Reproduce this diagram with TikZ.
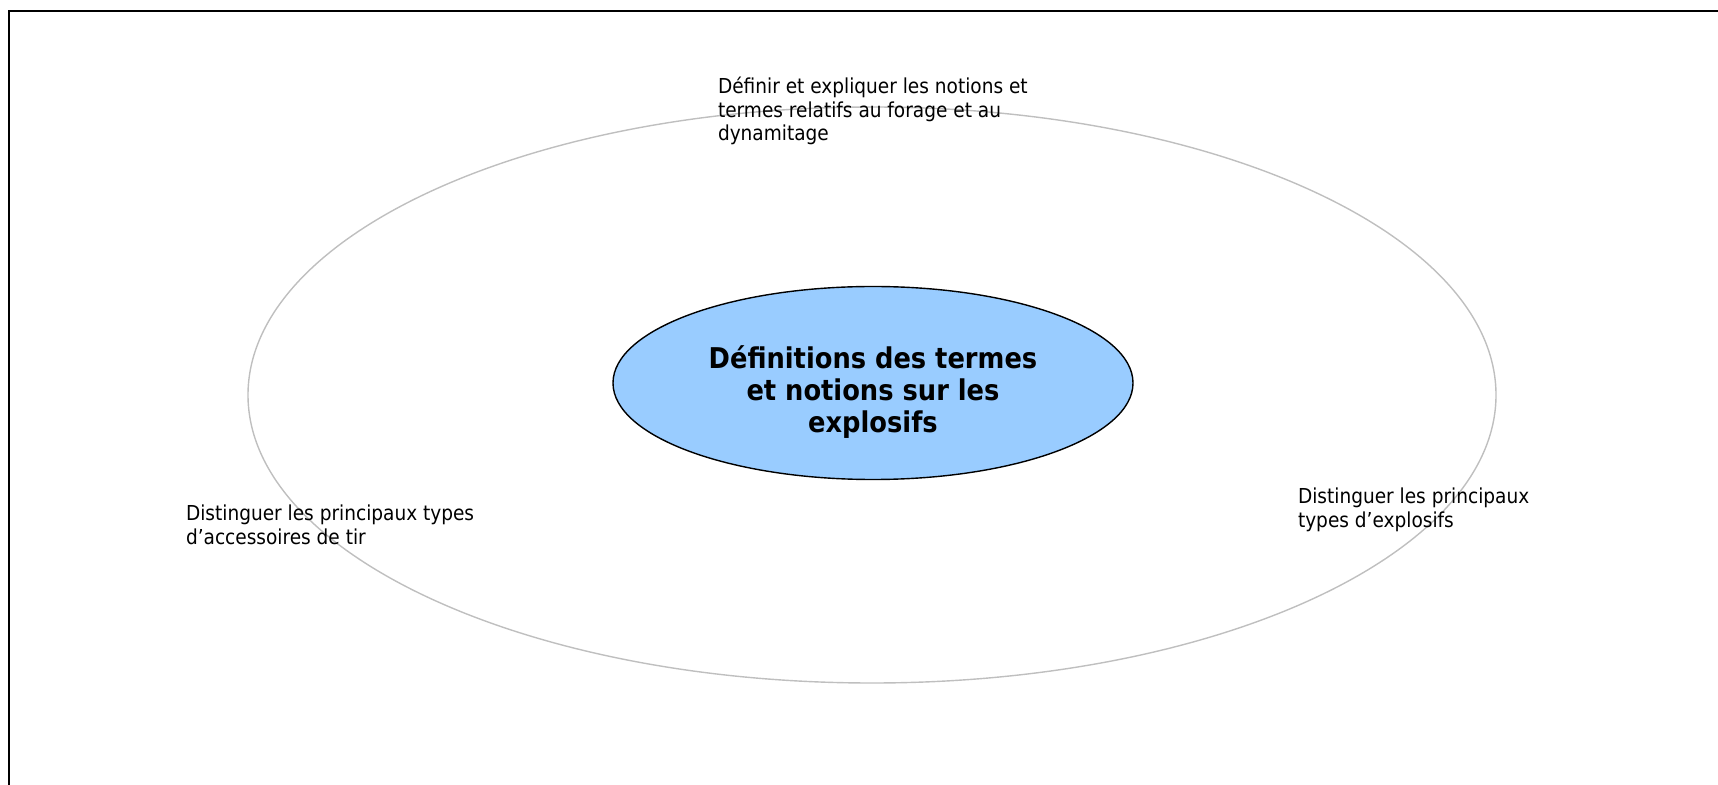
\documentclass[tikz,border=0pt]{standalone}
\usepackage{fontspec}
\setmainfont{DejaVu Sans Condensed}
\usetikzlibrary{shapes.geometric}

\begin{document}
\begin{tikzpicture}[x=0.5pt,y=-0.5pt]

\tikzstyle{every node}=[inner sep=0pt, outer sep=0pt]
\tikzstyle{goal}=[font=\fontsize{10.3}{11.8}\selectfont, align=left, anchor=north west]

\useasboundingbox (0,0) rectangle (1718,785);

% frame, cut by the page on the right and at the bottom
\coordinate (framebl) at (9,785);
\coordinate (frametl) at (9,11);
\coordinate (frametr) at (1718,11);
\draw[line width=1pt] (framebl) -- (frametl) -- (frametr);

\pgfmathsetmacro\x{872}
\pgfmathsetmacro\y{395}

\node[ellipse, draw=black!25, line width=0.7pt, minimum width=624pt, minimum height=288pt] (ring) at (\x,\y) {};

\node[ellipse, draw=black, fill={rgb,255:red,153;green,204;blue,255}, line width=0.7pt,
      minimum width=260pt, minimum height=96.5pt] (core) at (\x+1,\y-12) {};
\node[font=\fontsize{14.3}{16}\selectfont\bfseries, align=center] (coretext) at (\x+1,\y-3)
  {Définitions des termes\\et notions sur les\\explosifs};

\node[goal] (termes) at (718,77) {Définir et expliquer les notions et\\termes relatifs au forage et au\\dynamitage};
\node[goal] (accessoires) at (186,505) {Distinguer les principaux types\\d’accessoires de tir};
\node[goal] (explosifs) at (1298,488) {Distinguer les principaux\\types d’explosifs};

\end{tikzpicture}
\end{document}
